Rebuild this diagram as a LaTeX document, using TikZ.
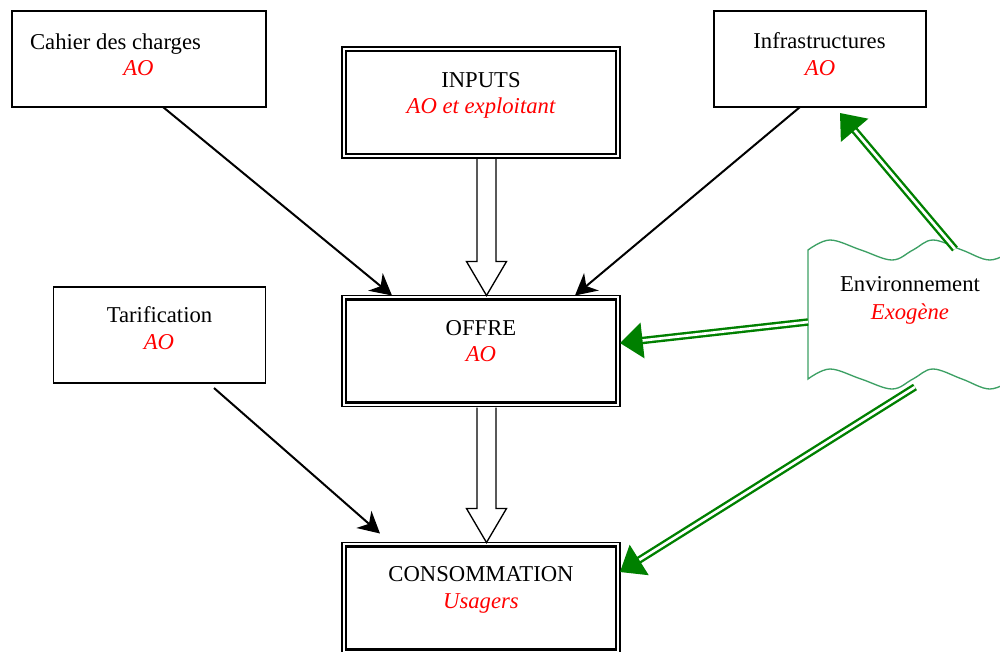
\documentclass[tikz,border=0pt]{standalone}
\usepackage{fontspec}
\setmainfont{Liberation Serif}
\usetikzlibrary{calc,arrows.meta}
\definecolor{gdark}{RGB}{0,128,0}
\definecolor{gsea}{RGB}{60,160,100}
\newcommand\greenarrow[3]{%
  \coordinate (#3b) at ($(#2)!17pt!(#1)$);
  \draw[gline] (#1) -- ($(#2)!15pt!(#1)$);
  \fill[gdark] (#2) -- ($(#3b)!13.5pt!90:(#2)$) -- ($(#3b)!13.5pt!-90:(#2)$) -- cycle;}
\begin{document}
\begin{tikzpicture}[x=0.75pt,y=-0.75pt,
  every node/.style={font=\fontsize{17}{20}\selectfont},
  box/.style={draw,line width=1.1pt,inner sep=0,outer sep=0},
  outerframe/.style={draw,line width=0.8pt,inner sep=0,outer sep=0,minimum width=208.5pt,minimum height=83.25pt},
  innerframe/.style={draw,line width=1.7pt,inner sep=0,outer sep=0,minimum width=202.5pt,minimum height=77.25pt},
  lbl/.style={anchor=base,inner sep=0},
  sub/.style={lbl,text=red,font=\fontsize{17}{20}\selectfont\itshape},
  barrow/.style={line width=1.5pt,-{Stealth[length=16pt,width=17pt,inset=5pt]}},
  hollow/.style={draw,fill=white,line width=1pt,line join=miter},
  gline/.style={draw=gdark,double=white,double distance=2pt,line width=1.8pt},
  envshape/.style={draw=gsea,fill=white,line width=1pt}]
\useasboundingbox (0,0) rectangle (1000,651);
\clip (0,0) rectangle (1000,651);

% environment wave shape
\draw[envshape] plot[smooth,tension=0.6] coordinates {(808,250) (830,240) (861,250) (892,260) (913,250) (933,240) (962,250) (990,260) (1014,250)}
  -- plot[smooth,tension=0.6] coordinates {(1014,379) (990,389) (962,379) (933,369) (913,379) (892,389) (861,379) (830,369) (808,379)} -- cycle;
\node[lbl] (envT) at (910,291.7) {Environnement};
\node[sub] (envS) at (910,319) {Exogène};
\coordinate (envL) at (808,322);
\coordinate (envTop) at (955,249);
\coordinate (envBot) at (915,387);

% simple boxes
\node[box,minimum width=190.5pt,minimum height=72pt] (cahier) at (139,59) {};
\node[lbl] (cahierT) at (115.5,49) {Cahier des charges};
\node[sub] (cahierS) at (138.5,75.5) {AO};
\node[box,minimum width=159pt,minimum height=72pt] (infra) at (820,59) {};
\node[lbl] (infraT) at (819.5,48.5) {Infrastructures};
\node[sub] (infraS) at (820,75) {AO};
\node[box,minimum width=159pt,minimum height=72pt] (tarif) at (159.5,335) {};
\node[lbl] (tarifT) at (159.5,322.7) {Tarification};
\node[sub] (tarifS) at (159,349.3) {AO};

% double framed boxes
\node[outerframe] (inputs) at (481,102.5) {};
\node[innerframe] (inputsI) at (481,102.5) {};
\node[lbl] (inputsT) at (481,87) {INPUTS};
\node[sub] (inputsS) at (481,113) {AO et exploitant};

\node[outerframe] (offre) at (481,351) {};
\node[innerframe] (offreI) at (481,351) {};
\node[lbl] (offreT) at (481,335) {OFFRE};
\node[sub] (offreS) at (481,361.7) {AO};

\node[outerframe] (conso) at (481,598) {};
\node[innerframe] (consoI) at (481,598) {};
\node[lbl] (consoT) at (481,581.7) {CONSOMMATION};
\node[sub] (consoS) at (481,608) {Usagers};

% hollow arrows
\draw[hollow] ($(inputs.south)+(-4,1)$) -- ($(offre.north)+(-4,-34)$) -- ($(offre.north)+(-14.5,-34)$)
  -- ($(offre.north)+(5.5,0)$) -- ($(offre.north)+(25.5,-34)$) -- ($(offre.north)+(15,-34)$) -- ($(inputs.south)+(15,1)$);
\draw[hollow] ($(offre.south)+(-4,1)$) -- ($(conso.north)+(-4,-34)$) -- ($(conso.north)+(-14.5,-34)$)
  -- ($(conso.north)+(5.5,0)$) -- ($(conso.north)+(25.5,-34)$) -- ($(conso.north)+(15,-34)$) -- ($(offre.south)+(15,1)$);

% black arrows
\draw[barrow] ($(cahier.south)+(24,0)$) -- ($(offre.north)+(-89,0)$);
\draw[barrow] ($(infra.south)+(-20,0)$) -- ($(offre.north)+(94,0)$);
\draw[barrow] ($(tarif.south)+(54.5,5)$) -- ($(conso.north)+(-101,-9)$);

% green arrows
\coordinate (gaT) at ($(infra.south)+(20,6)$);
\coordinate (gbT) at ($(offre.east)+(0,-8)$);
\coordinate (gcT) at ($(conso.east)+(0,-26)$);
\greenarrow{envTop}{gaT}{ga}
\greenarrow{envL}{gbT}{gb}
\greenarrow{envBot}{gcT}{gc}
\end{tikzpicture}
\end{document}
